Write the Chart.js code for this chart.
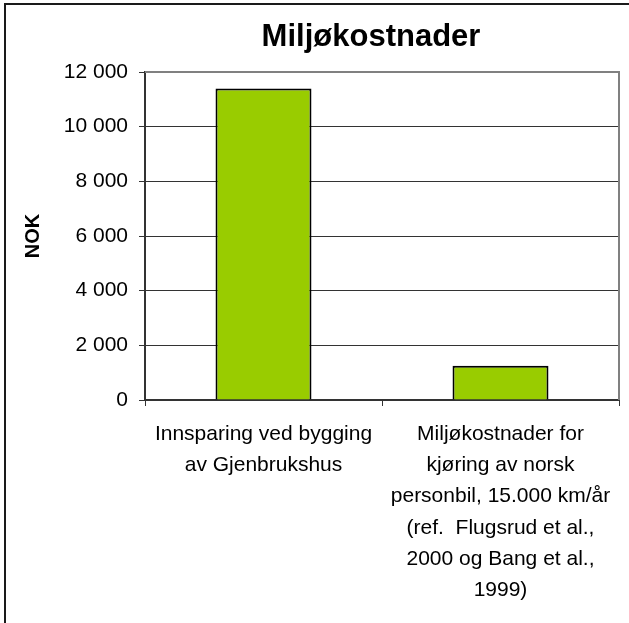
<!DOCTYPE html>
<html>
<head>
<meta charset="utf-8">
<script src="https://cdn.jsdelivr.net/npm/chart.js@4.4.0/dist/chart.umd.min.js"></script>
<style>
  html, body { margin: 0; padding: 0; background: #ffffff; }
  #wrap { width: 629px; height: 623px; position: relative; }
</style>
</head>
<body>
<div id="wrap"><canvas id="c" width="629" height="623"></canvas></div>
<script>
const chartTitle = "Miljøkostnader";
const yAxisTitle = "NOK";
const categories = [
  ["Innsparing ved bygging", "av Gjenbrukshus"],
  ["Miljøkostnader for", "kjøring av norsk", "personbil, 15.000 km/år", "(ref.  Flugsrud et al.,", "2000 og Bang et al.,", "1999)"]
];
const values = [11400, 1250];
const yMin = 0, yMax = 12000, yStep = 2000;

const FONT = "'Liberation Sans', Arial, sans-serif";

const decorPlugin = {
  id: 'decor',
  beforeDraw(chart) {
    const ctx = chart.ctx;
    ctx.save();
    ctx.fillStyle = '#ffffff';
    ctx.fillRect(0, 0, chart.width, chart.height);
    // outer frame (left and top visible)
    ctx.strokeStyle = '#1a1a1a';
    ctx.lineWidth = 2;
    ctx.beginPath();
    ctx.moveTo(5, chart.height);
    ctx.lineTo(5, 4);
    ctx.lineTo(chart.width, 4);
    ctx.stroke();
    // title
    ctx.fillStyle = '#000000';
    ctx.font = "bold 31px " + FONT;
    ctx.textAlign = 'center';
    ctx.textBaseline = 'middle';
    ctx.fillText(chartTitle, 371, 37);
    ctx.restore();
  },
  afterDatasetsDraw(chart) {
    const a = chart.chartArea;
    const ctx = chart.ctx;
    ctx.save();
    ctx.strokeStyle = '#808080';
    ctx.lineWidth = 2;
    ctx.beginPath();
    ctx.moveTo(a.left, a.top);
    ctx.lineTo(a.right, a.top);
    ctx.lineTo(a.right, a.bottom);
    ctx.stroke();
    ctx.restore();
  }
};

new Chart(document.getElementById('c'), {
  type: 'bar',
  data: {
    labels: categories,
    datasets: [{
      data: values,
      backgroundColor: '#99CC00',
      borderColor: '#000000',
      borderWidth: 2,
      categoryPercentage: 1.0,
      barPercentage: 0.405
    }]
  },
  options: {
    responsive: false,
    animation: false,
    devicePixelRatio: 1,
    layout: { padding: { left: 0, right: 10, top: 72, bottom: 0 } },
    plugins: {
      legend: { display: false },
      title: { display: false },
      tooltip: { enabled: false }
    },
    scales: {
      x: {
        offset: true,
        afterFit(scale) { scale.height = 223; },
        grid: {
          offset: true,
          drawOnChartArea: false,
          drawTicks: true,
          tickLength: 6,
          color: '#333333',
          lineWidth: 1
        },
        border: { display: true, color: '#333333', width: 2 },
        ticks: {
          color: '#000000',
          font: { family: FONT, size: 21, lineHeight: 1.48 },
          padding: 13,
          maxRotation: 0,
          minRotation: 0,
          autoSkip: false
        }
      },
      y: {
        min: yMin,
        max: yMax,
        afterFit(scale) { scale.width = 145; },
        grid: {
          color: '#333333',
          lineWidth: 1,
          drawTicks: true,
          tickLength: 6
        },
        border: { display: true, color: '#333333', width: 2 },
        ticks: {
          stepSize: yStep,
          color: '#000000',
          font: { family: FONT, size: 21 },
          padding: 11,
          callback: (v) => String(v).replace(/\B(?=(\d{3})+(?!\d))/g, ' ')
        },
        title: {
          display: true,
          text: yAxisTitle,
          color: '#000000',
          font: { family: FONT, size: 20, weight: 'bold' },
          padding: { top: 21, bottom: 0 }
        }
      }
    }
  },
  plugins: [decorPlugin]
});
</script>
</body>
</html>
